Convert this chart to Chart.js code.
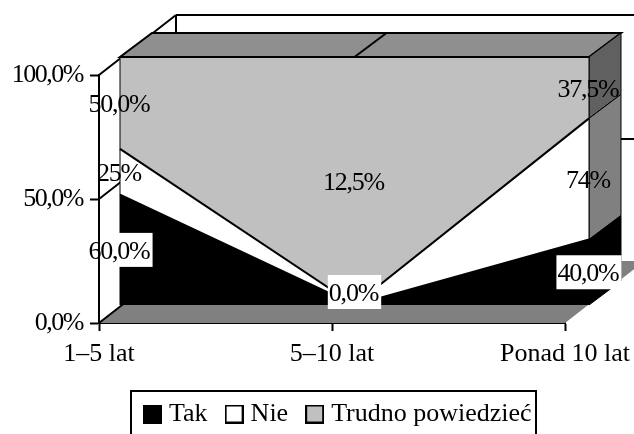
<!DOCTYPE html>
<html>
<head>
<meta charset="utf-8">
<style>html,body{margin:0;padding:0;background:#fff;overflow:hidden}canvas{display:block}</style>
<script src="https://cdn.jsdelivr.net/npm/chart.js@4"></script>
</head>
<body>
<canvas id="c" width="634" height="434"></canvas>
<script>
const categories = ['1–5 lat', '5–10 lat', 'Ponad 10 lat'];
const seriesNames = ['Tak', 'Nie', 'Trudno powiedzieć'];
const takValues = [60, 0, 40];
const nieValues = [25, 0, 74];
const trudnoValues = [50, 12.5, 37.5];
const takLabels = ['60,0%', '0,0%', '40,0%'];
const nieLabels = ['25%', null, '74%'];
const trudnoLabels = ['50,0%', '12,5%', '37,5%'];

const totals = categories.map((_, i) => takValues[i] + nieValues[i] + trudnoValues[i]);
const share = arr => arr.map((v, i) => v / totals[i] * 100);

const FONT = '"Liberation Serif","Times New Roman",serif';
const NEAR_X = 21, NEAR_Y = -18;      // axis plane -> front of the areas
const FACE_W = 469;                   // width of the area front
const CAP_X = 32, CAP_Y = -24;        // front of the areas -> back of the areas
const WALL_X = 77, WALL_Y = -60;      // axis plane -> back wall

function swatch(fill, border) {
  const s = document.createElement('canvas');
  s.width = 19; s.height = 19;
  const g = s.getContext('2d');
  g.fillStyle = fill; g.fillRect(0, 0, 19, 19);
  if (border) { g.strokeStyle = '#000'; g.lineWidth = 2; g.strokeRect(1, 1, 17, 17); }
  return s;
}
function poly(ctx, pts, fill, stroke, lw) {
  ctx.beginPath();
  pts.forEach((p, i) => i ? ctx.lineTo(p[0], p[1]) : ctx.moveTo(p[0], p[1]));
  ctx.closePath();
  if (fill) { ctx.fillStyle = fill; ctx.fill(); }
  if (stroke) { ctx.strokeStyle = stroke; ctx.lineWidth = lw; ctx.stroke(); }
}
function seg(ctx, x1, y1, x2, y2, lw) {
  ctx.beginPath(); ctx.moveTo(x1, y1); ctx.lineTo(x2, y2);
  ctx.strokeStyle = '#000'; ctx.lineWidth = lw; ctx.stroke();
}

const scene3d = {
  id: 'scene3d',
  afterLayout(chart) {
    const l = chart.legend;
    const pad = l.options.labels.padding;
    l.left = 149 - pad;
    l.right = l.left + l.width;
    l.top = 401 - pad;
  },
  beforeDatasetsDraw(chart) {
    const ctx = chart.ctx, a = chart.chartArea, ys = chart.scales.y, xs = chart.scales.x;
    const sx = FACE_W / (a.right - a.left);
    const fx = x => a.left + NEAR_X + (x - a.left) * sx;
    const L = fx(a.left), R = fx(a.right), T = a.top + NEAR_Y, B = a.bottom + NEAR_Y;
    ctx.save();
    ctx.lineJoin = 'miter';
    // floor
    poly(ctx, [[a.left, a.bottom], [a.right, a.bottom], [a.right + WALL_X, a.bottom + WALL_Y], [a.left + WALL_X, a.bottom + WALL_Y]], '#808080');
    seg(ctx, a.left + WALL_X, a.bottom + WALL_Y - 1, a.right + WALL_X, a.bottom + WALL_Y - 1, 1);
    // back wall and side wall lines
    seg(ctx, a.left + WALL_X, a.top + WALL_Y, a.right + WALL_X, a.top + WALL_Y, 2);
    seg(ctx, a.left + WALL_X, a.top + WALL_Y, a.left + WALL_X, a.top + WALL_Y + 20, 2);
    [100, 50, 0].forEach(v => {
      const y = ys.getPixelForValue(v);
      seg(ctx, a.left, y, a.left + WALL_X, y + WALL_Y, 2);
      if (v === 50) seg(ctx, R + CAP_X, y + WALL_Y, a.right + WALL_X, y + WALL_Y, 2);
    });
    // top face with category divider
    poly(ctx, [[L, T], [R, T], [R + CAP_X, T + CAP_Y], [L + CAP_X, T + CAP_Y]], '#8f8f8f', '#000', 2);
    const mid = fx(xs.getPixelForTick(1));
    seg(ctx, mid, T, mid + CAP_X, T + CAP_Y, 2);
    // end caps of the three areas
    const last = categories.length - 1;
    const capColors = ['#000000', '#808080', '#606060'];
    [2, 1, 0].forEach(i => {
      const top = chart.getDatasetMeta(i).data[last].y + NEAR_Y;
      const bot = (i ? chart.getDatasetMeta(i - 1).data[last].y : ys.bottom) + NEAR_Y;
      poly(ctx, [[R, top], [R + CAP_X, top + CAP_Y], [R + CAP_X, bot + CAP_Y], [R, bot]], capColors[i], '#000', 1);
    });
    ctx.restore();
    ctx.save();
    ctx.transform(sx, 0, 0, 1, a.left + NEAR_X - a.left * sx, NEAR_Y);
  },
  afterDatasetsDraw(chart) {
    const ctx = chart.ctx, a = chart.chartArea, ys = chart.scales.y, xs = chart.scales.x;
    ctx.restore();
    const sx = FACE_W / (a.right - a.left);
    const fx = x => a.left + NEAR_X + (x - a.left) * sx;
    const L = fx(a.left), R = fx(a.right), T = a.top + NEAR_Y, B = a.bottom + NEAR_Y;
    ctx.save();
    seg(ctx, L, T, L, B, 1);
    seg(ctx, R, T, R, B, 1);
    // data labels
    ctx.font = '26px ' + FONT;
    ctx.letterSpacing = '-1.2px';
    ctx.textAlign = 'center';
    ctx.textBaseline = 'middle';
    [takLabels, nieLabels, trudnoLabels].forEach((labels, i) => {
      labels.forEach((text, j) => {
        if (!text) return;
        const top = chart.getDatasetMeta(i).data[j].y;
        const bot = i ? chart.getDatasetMeta(i - 1).data[j].y : ys.bottom;
        const x = fx(xs.getPixelForTick(j));
        const y = Math.min((top + bot) / 2 + NEAR_Y, B - 13);
        if (i === 0) {
          const w = ctx.measureText(text).width + 4;
          ctx.fillStyle = '#fff';
          ctx.fillRect(x - w / 2, y - 17, w, 34);
        }
        ctx.fillStyle = '#000';
        ctx.fillText(text, x - 1, y + 2);
      });
    });
    ctx.restore();
    // the value axis is drawn next, with its condensed digits
    ctx.letterSpacing = '-1.5px';
  },
  afterDraw(chart) {
    const ctx = chart.ctx;
    ctx.letterSpacing = '0px';
    ctx.save();
    ctx.strokeStyle = '#000';
    ctx.lineWidth = 2;
    ctx.strokeRect(131, 391, 405, 60);
    ctx.restore();
  }
};

new Chart(document.getElementById('c'), {
  type: 'line',
  data: {
    labels: categories,
    datasets: [
      { label: seriesNames[0], data: share(takValues), backgroundColor: '#000000', fill: 'origin', pointStyle: swatch('#000000', false) },
      { label: seriesNames[1], data: share(nieValues), backgroundColor: '#ffffff', fill: '-1', pointStyle: swatch('#ffffff', true) },
      { label: seriesNames[2], data: share(trudnoValues), backgroundColor: '#c0c0c0', fill: '-1', pointStyle: swatch('#c0c0c0', true) }
    ].map(d => Object.assign(d, { borderColor: '#000', borderWidth: 2, tension: 0, pointRadius: 0, clip: false }))
  },
  options: {
    responsive: false,
    animation: false,
    devicePixelRatio: 1,
    layout: { padding: { top: 75, left: 0, right: 69, bottom: 0 } },
    plugins: {
      tooltip: { enabled: false },
      title: { display: false },
      legend: {
        position: 'bottom',
        align: 'start',
        labels: {
          usePointStyle: true,
          pointStyleWidth: 7,
          boxHeight: 19,
          padding: 23,
          color: '#000',
          font: { family: FONT, size: 26 }
        }
      }
    },
    scales: {
      x: {
        type: 'category',
        offset: false,
        afterFit: s => {
          s.height = 111 - (s.chart.legend ? s.chart.legend.height : 0);
          s.paddingLeft = 0;
          s.paddingRight = 0;
        },
        border: { color: '#000', width: 2 },
        grid: { drawOnChartArea: false, color: '#000', tickColor: '#000', tickLength: 8, tickWidth: 2 },
        ticks: { color: '#000', font: { family: FONT, size: 26 }, maxRotation: 0, autoSkip: false, padding: 8 }
      },
      y: {
        min: 0, max: 100, stacked: true,
        afterFit: s => { s.width = 99; },
        border: { color: '#000', width: 2, z: 1 },
        grid: { drawOnChartArea: false, color: '#000', tickColor: '#000', tickLength: 9, tickWidth: 2 },
        ticks: {
          z: 1,
          stepSize: 50, color: '#000', padding: 7,
          font: { family: FONT, size: 26 },
          callback: v => v.toFixed(1).replace('.', ',') + '%'
        }
      }
    }
  },
  plugins: [scene3d]
});
</script>
</body>
</html>
